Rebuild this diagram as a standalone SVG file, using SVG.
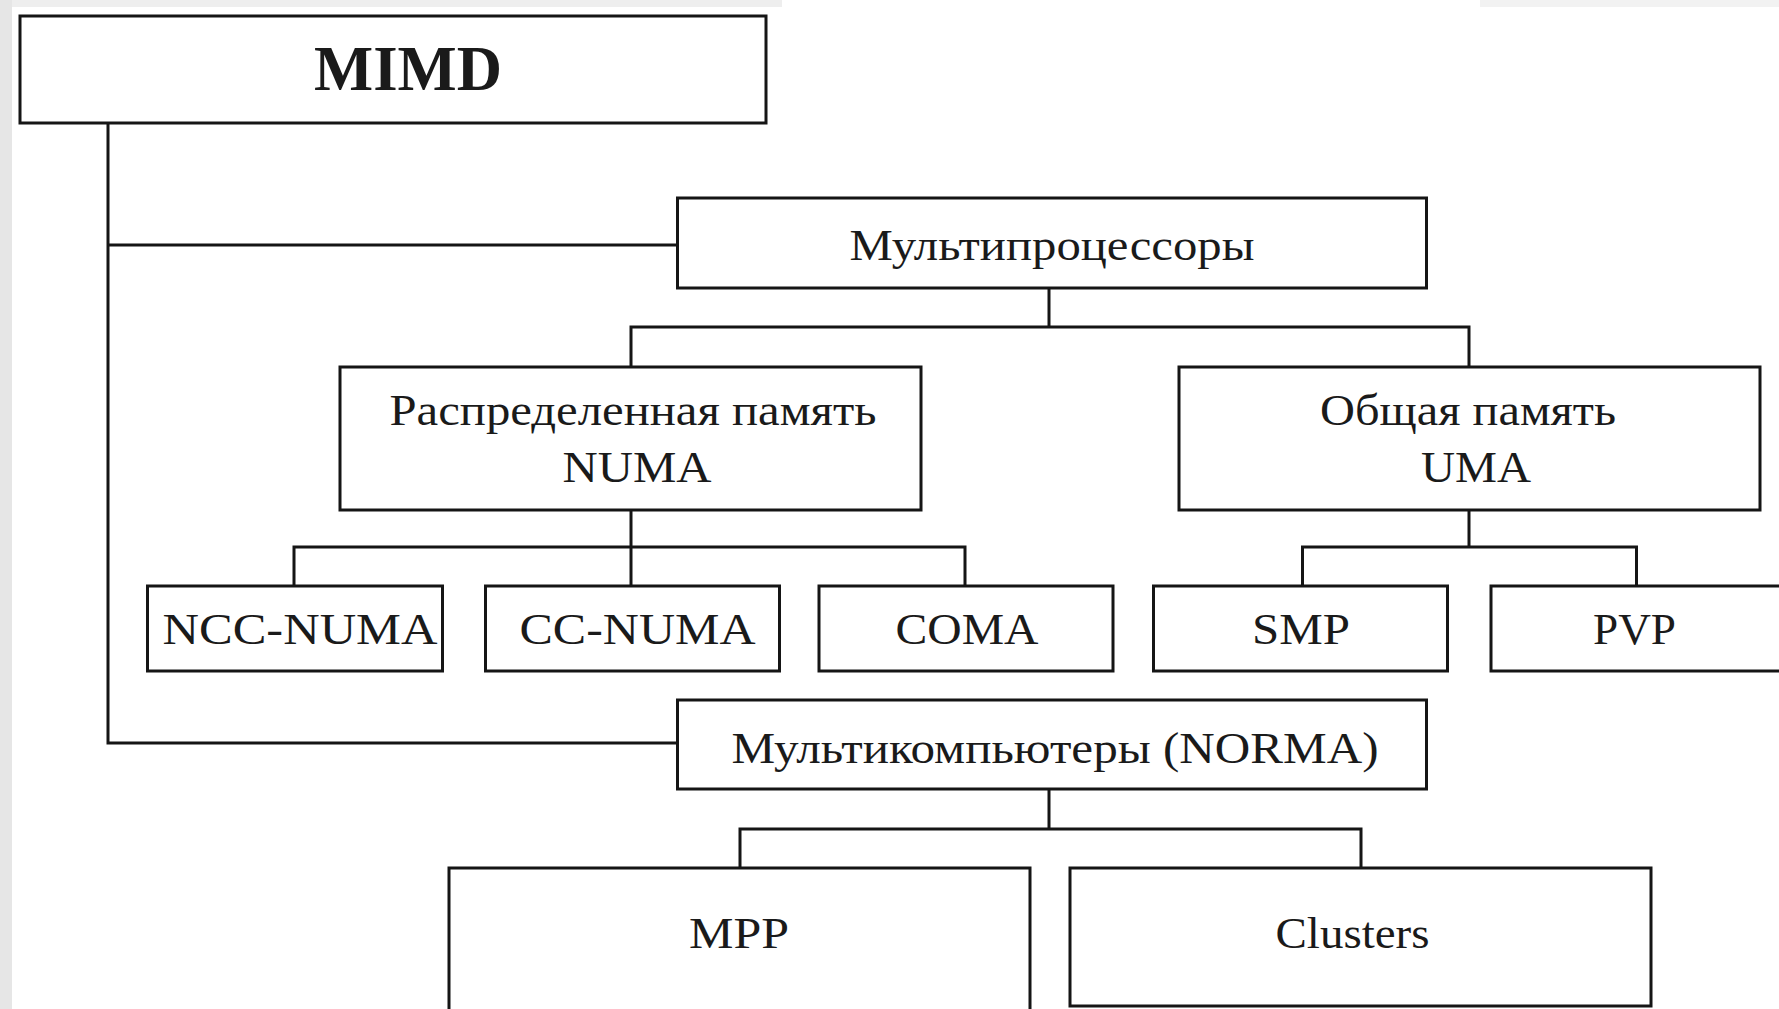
<svg xmlns="http://www.w3.org/2000/svg" width="1779" height="1009" viewBox="0 0 1779 1009">
<style>
.box{fill:#ffffff;stroke:#151515;stroke-width:3}
.edge{fill:none;stroke:#151515;stroke-width:3}
.t{font-family:"Liberation Serif","Times New Roman",serif;font-size:45px;fill:#1a1a1a;text-anchor:middle}
.b{font-weight:bold;font-size:63px}
</style>
<rect x="0" y="0" width="1779" height="1009" fill="#ffffff"/>
<rect x="0" y="0" width="12" height="1009" fill="#e6e6e6"/>
<rect x="12" y="0" width="770" height="7" fill="#eeeeee"/>
<rect x="1480" y="0" width="299" height="7" fill="#f2f2f2"/>
<g id="connectors">
<path class="edge" d="M108,123 V743 H677.5"/>
<path class="edge" d="M108,245 H677.5"/>
<path class="edge" d="M1049,288 V327"/>
<path class="edge" d="M631,367 V327 H1469 V367"/>
<path class="edge" d="M631,510 V586"/>
<path class="edge" d="M294,586 V547 H965 V586"/>
<path class="edge" d="M1469,510 V547"/>
<path class="edge" d="M1302.5,586 V547 H1636.5 V586"/>
<path class="edge" d="M1049,789 V829"/>
<path class="edge" d="M740,868 V829 H1361 V868"/>
</g>
<g id="mimd"><rect class="box" x="20" y="16" width="746" height="107"/><text class="t b" x="408" y="90" textLength="188" lengthAdjust="spacingAndGlyphs">MIMD</text></g>
<g id="multiprocessors"><rect class="box" x="677.5" y="198" width="749" height="90"/><text class="t" x="1052" y="260" textLength="405" lengthAdjust="spacingAndGlyphs">Мультипроцессоры</text></g>
<g id="numa"><rect class="box" x="340" y="367" width="581" height="143"/><text class="t" x="633" y="425" textLength="487" lengthAdjust="spacingAndGlyphs">Распределенная память</text><text class="t" x="637" y="482" textLength="149" lengthAdjust="spacingAndGlyphs">NUMA</text></g>
<g id="uma"><rect class="box" x="1179" y="367" width="581" height="143"/><text class="t" x="1468" y="425" textLength="296" lengthAdjust="spacingAndGlyphs">Общая память</text><text class="t" x="1476" y="482" textLength="110" lengthAdjust="spacingAndGlyphs">UMA</text></g>
<g id="ncc-numa"><rect class="box" x="147.5" y="586" width="295" height="85"/><text class="t" x="300" y="644" textLength="275" lengthAdjust="spacingAndGlyphs">NCC-NUMA</text></g>
<g id="cc-numa"><rect class="box" x="485.5" y="586" width="294" height="85"/><text class="t" x="637.5" y="644" textLength="236" lengthAdjust="spacingAndGlyphs">CC-NUMA</text></g>
<g id="coma"><rect class="box" x="819" y="586" width="294" height="85"/><text class="t" x="967" y="644" textLength="143" lengthAdjust="spacingAndGlyphs">COMA</text></g>
<g id="smp"><rect class="box" x="1153.5" y="586" width="294" height="85"/><text class="t" x="1301" y="644" textLength="98" lengthAdjust="spacingAndGlyphs">SMP</text></g>
<g id="pvp"><rect class="box" x="1491" y="586" width="300" height="85"/><text class="t" x="1634.5" y="644" textLength="83" lengthAdjust="spacingAndGlyphs">PVP</text></g>
<g id="norma"><rect class="box" x="677.5" y="700" width="749" height="89"/><text class="t" x="1055" y="763" textLength="647" lengthAdjust="spacingAndGlyphs">Мультикомпьютеры (NORMA)</text></g>
<g id="mpp"><rect class="box" x="449" y="868" width="581" height="160"/><text class="t" x="739" y="948" textLength="100" lengthAdjust="spacingAndGlyphs">MPP</text></g>
<g id="clusters"><rect class="box" x="1070" y="868" width="581" height="138"/><text class="t" x="1352.5" y="948" textLength="154" lengthAdjust="spacingAndGlyphs">Clusters</text></g>
</svg>
